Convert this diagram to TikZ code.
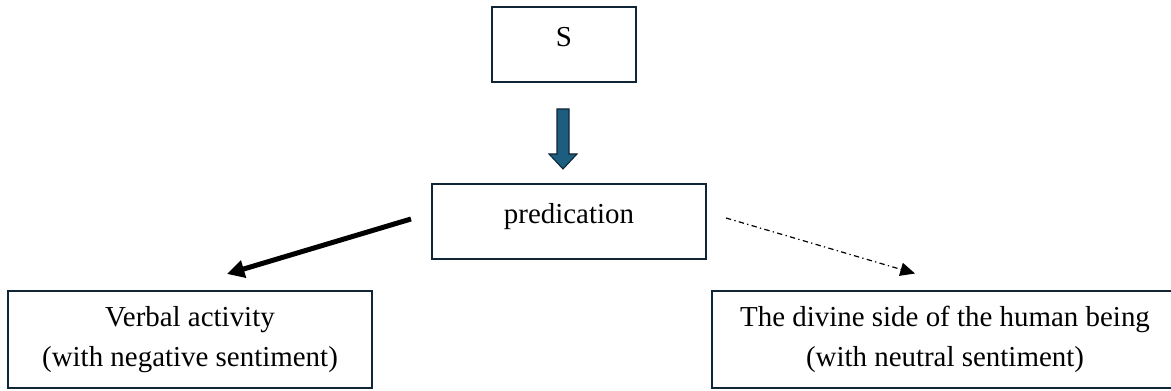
\documentclass[tikz,border=0pt]{standalone}
\usepackage{fontspec}
\setmainfont{Liberation Serif}
\usepackage{xcolor}
\usepackage{tikz}
\usetikzlibrary{calc, arrows.meta}

\definecolor{boxline}{RGB}{16,37,54}
\definecolor{arrowblue}{RGB}{28,93,128}

\tikzset{
	box/.style = {draw=boxline, line width=1.5pt, inner sep=0pt, font=\fontsize{21.7}{29.5}\selectfont},
	onebox/.style = {box, text height=10pt, text depth=7pt},
	twobox/.style = {box, align=center},
}

\begin{document}
\begin{tikzpicture}[x=0.75pt, y=-0.75pt]
			\useasboundingbox (0,0) rectangle (1171,391);
			
			%boxes
			\node [onebox, minimum width=108pt, minimum height=56.25pt] (S) at (564,44.5) {S};
			\node [onebox, minimum width=205.5pt, minimum height=56.25pt] (pred) at (569,221.5) {predication};
			\node [twobox, minimum width=273pt, minimum height=72.75pt] (verbal) at (190,339.5) {Verbal activity\\(with negative sentiment)};
			\node [twobox, minimum width=349.5pt, minimum height=72.75pt] (divine) at (945,339.5) {The divine side of the human being\\(with neutral sentiment)};
			
			%block arrow S to predication
			\draw [fill=arrowblue, draw=boxline, line width=0.8pt, line join=miter] ($(S.south)+(-7,26)$) -- ++(12,0) -- ++(0,45) -- ++(8,0) -- ++(-14,15) -- ++(-14,-15) -- ++(8,0) -- cycle;
			
			%branches
			\draw [-{Triangle[length=13pt, width=13pt]}, line width=3.75pt] ($(pred.west)+(-20,-2.5)$) -- ($(verbal.north)+(37,-16)$);
			\draw [-{Triangle[length=11pt, width=10pt]}, line width=0.9pt, dash pattern=on 4pt off 2.5pt on 1pt off 2.5pt] ($(pred.east)+(19,-3.5)$) -- ($(divine.north)+(-30,-16.5)$);
		\end{tikzpicture}
\end{document}
